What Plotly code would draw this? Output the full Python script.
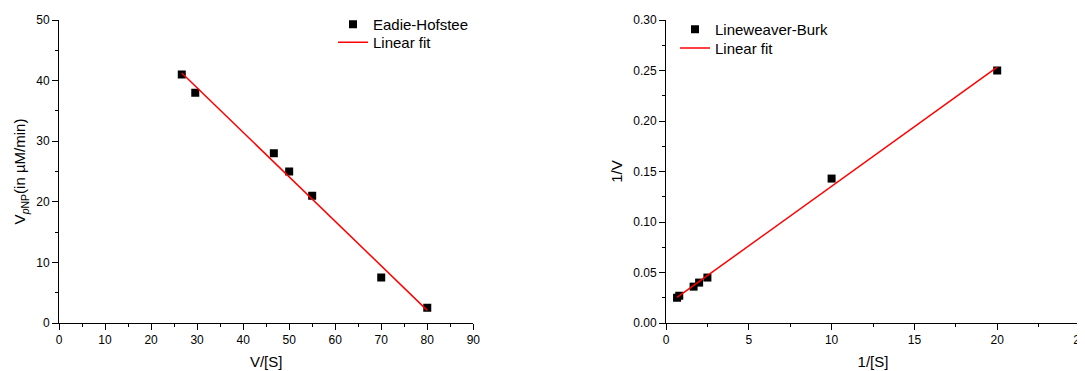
import numpy as np
import plotly.graph_objects as go

# Eadie-Hofstee data
eh_x = [26.67, 29.6, 46.67, 50.0, 55.0, 70.0, 80.0]
eh_y = [41.0, 38.0, 28.0, 25.0, 21.0, 7.5, 2.5]

# Lineweaver-Burk data
lb_x = [0.667, 0.8, 1.667, 2.0, 2.5, 10.0, 20.0]
lb_y = [0.025, 0.027, 0.036, 0.040, 0.045, 0.143, 0.250]

# linear fits computed from the data
eh_fit = np.polyfit(eh_x, eh_y, 1)
lb_fit = np.polyfit(lb_x, lb_y, 1)
eh_fx = [min(eh_x), max(eh_x)]
lb_fx = [min(lb_x), max(lb_x)]

# page body has an 8px margin, so the figure is 8px smaller
OFF = 8
W, H = 1085 - OFF, 371 - OFF
FONT = "Liberation Sans, Arial, sans-serif"
ML, MR, MT, MB = 59 - OFF, 5, 20 - OFF, 48
PW = W - ML - MR
PH = H - MT - MB


def px(ax):  # absolute window x -> paper x
    return (ax - 59) / PW


def py(ay):  # absolute window y -> paper y
    return 1 - (ay - 20) / PH


fig = go.Figure()
fig.add_trace(go.Scatter(x=eh_x, y=eh_y, mode="markers", name="Eadie-Hofstee",
                         marker=dict(symbol="square", size=8, color="black"),
                         xaxis="x", yaxis="y", legend="legend"))
fig.add_trace(go.Scatter(x=eh_fx, y=list(np.polyval(eh_fit, eh_fx)), mode="lines",
                         name="Linear fit", line=dict(color="#ff0000", width=1.5),
                         xaxis="x", yaxis="y", legend="legend2"))
fig.add_trace(go.Scatter(x=lb_x, y=lb_y, mode="markers", name="Lineweaver-Burk",
                         marker=dict(symbol="square", size=8, color="black"),
                         xaxis="x2", yaxis="y2", legend="legend3"))
fig.add_trace(go.Scatter(x=lb_fx, y=list(np.polyval(lb_fit, lb_fx)), mode="lines",
                         name="Linear fit", line=dict(color="#ff0000", width=1.5),
                         xaxis="x2", yaxis="y2", legend="legend4"))


def axis_common(rng, dtick, minor_dtick, title, domain, anchor, standoff, tickformat=None):
    d = dict(range=rng, dtick=dtick, tick0=0, domain=domain, anchor=anchor,
             automargin=False, ticklabeloverflow="allow",
             showgrid=False, zeroline=False, showline=True, linecolor="black",
             linewidth=1, ticks="outside", ticklen=6, tickwidth=1, tickcolor="black",
             minor=dict(ticks="outside", ticklen=3, dtick=minor_dtick, tickcolor="black", showgrid=False),
             tickfont=dict(family=FONT, size=12, color="black"),
             title=dict(text=title, standoff=standoff, font=dict(family=FONT, size=15, color="black")))
    if tickformat:
        d["tickformat"] = tickformat
    return d


def leg(ax, ay_top):
    return dict(x=px(ax), y=py(ay_top), xanchor="left", yanchor="top",
                font=dict(family=FONT, size=15, color="black"), bgcolor="rgba(0,0,0,0)")


fig.update_layout(
    width=W, height=H,
    margin=dict(l=ML, r=MR, t=MT, b=MB, autoexpand=False),
    paper_bgcolor="white", plot_bgcolor="white",
    xaxis=axis_common([0, 90], 10, 5, "V/[S]", [0, px(473.3)], "y", 10),
    yaxis=axis_common([0, 50], 10, 5, "V<sub><i>p</i>NP</sub>(in µM/min)", [0, 1], "x", 6),
    xaxis2=axis_common([0, 25], 5, 2.5, "1/[S]", [px(666), 1], "y2", 10),
    yaxis2=axis_common([0, 0.30], 0.05, 0.025, "1/V", [0, 1], "x2", 6, ".2f"),
    legend=leg(333, 8),
    legend2=leg(333, 26),
    legend3=leg(675, 13),
    legend4=leg(675, 31.7),
    showlegend=True,
)

fig.write_html("out.html")
